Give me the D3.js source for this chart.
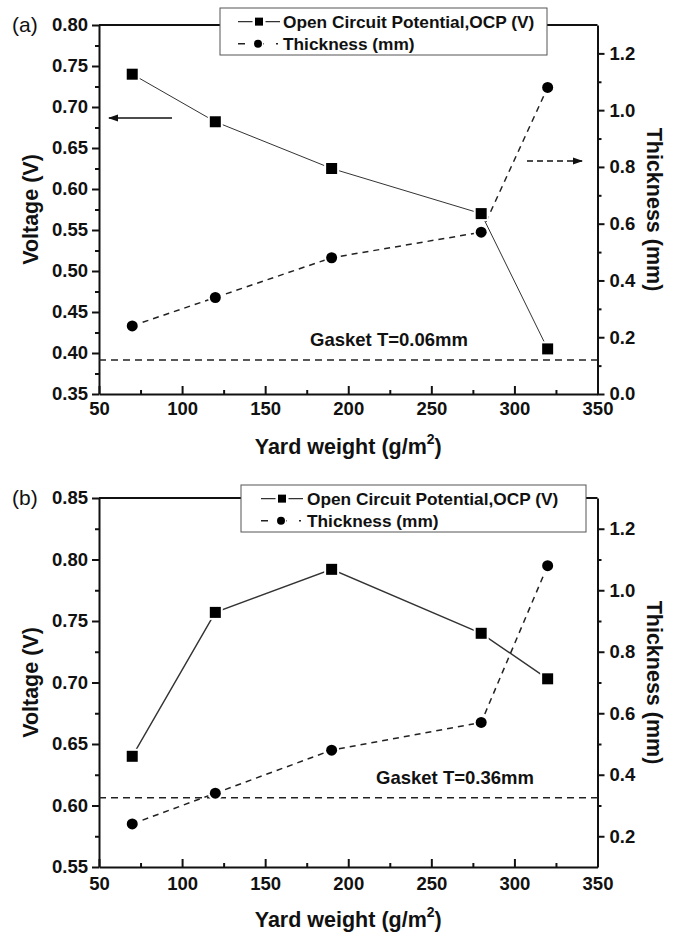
<!DOCTYPE html>
<html>
<head>
<meta charset="utf-8">
<script src="https://cdn.jsdelivr.net/npm/d3@7"></script>
<style>
  body { margin: 0; background: #fff; }
  svg text { font-family: "Liberation Sans", Arial, sans-serif; fill: #111; }
</style>
</head>
<body>
<div id="chart"></div>
<script>
const width = 676;
const height = 934;

// values
const yardWeight = [70, 120, 190, 280, 320];
const ocpA = [0.740, 0.682, 0.625, 0.570, 0.405];
const thickA = [0.24, 0.34, 0.48, 0.57, 1.08];
const ocpB = [0.640, 0.757, 0.792, 0.740, 0.703];
const thickB = [0.24, 0.34, 0.48, 0.57, 1.08];

const xTicks = [50, 100, 150, 200, 250, 300, 350];
const voltTicksA = [0.35, 0.40, 0.45, 0.50, 0.55, 0.60, 0.65, 0.70, 0.75, 0.80];
const voltTicksB = [0.55, 0.60, 0.65, 0.70, 0.75, 0.80, 0.85];
const thickTicksA = [0.0, 0.2, 0.4, 0.6, 0.8, 1.0, 1.2];
const thickTicksB = [0.2, 0.4, 0.6, 0.8, 1.0, 1.2];

const legendLabels = ["Open Circuit Potential,OCP (V)", "Thickness (mm)"];

const svg = d3.select("#chart")
    .append("svg")
    .attr("width", width)
    .attr("height", height);

const x = d3.scaleLinear().domain([50, 350]).range([99, 597.5]);

function minorTicks(ticks) {
    let out = [];
    for (let i = 0; i < ticks.length - 1; i++) out.push((ticks[i] + ticks[i + 1]) / 2);
    return out;
}

function drawPanel(p) {
    const g = svg.append("g");
    const top = p.top, bottom = p.bottom;
    const yL = d3.scaleLinear().domain(p.voltDomain).range([bottom, top]);
    const yR = d3.scaleLinear().domain(p.thickDomain).range([bottom, top]);

    // frame top line
    g.append("line")
        .attr("x1", x.range()[0]).attr("x2", x.range()[1])
        .attr("y1", top).attr("y2", top)
        .attr("stroke", "#111").attr("stroke-width", 2);

    // minor ticks
    const xMinor = g.append("g").attr("transform", `translate(0,${bottom})`)
        .call(d3.axisBottom(x).tickValues(minorTicks(xTicks)).tickSize(-4).tickFormat(""));
    const lMinor = g.append("g").attr("transform", `translate(${x.range()[0]},0)`)
        .call(d3.axisLeft(yL).tickValues(minorTicks(p.voltTicks)).tickSize(4).tickFormat(""));
    const rMinor = g.append("g").attr("transform", `translate(${x.range()[1]},0)`)
        .call(d3.axisRight(yR).tickValues(minorTicks(p.thickTicks)).tickSize(4).tickFormat(""));

    // major axes
    const xAxis = g.append("g").attr("transform", `translate(0,${bottom})`)
        .call(d3.axisBottom(x).tickValues(xTicks).tickSize(-8).tickSizeOuter(0).tickPadding(p.xPad));
    const lAxis = g.append("g").attr("transform", `translate(${x.range()[0]},0)`)
        .call(d3.axisLeft(yL).tickValues(p.voltTicks).tickSize(7).tickSizeOuter(0).tickPadding(4).tickFormat(d3.format(".2f")));
    const rAxis = g.append("g").attr("transform", `translate(${x.range()[1]},0)`)
        .call(d3.axisRight(yR).tickValues(p.thickTicks).tickSize(7).tickSizeOuter(0).tickPadding(5).tickFormat(d3.format(".1f")));

    [xMinor, lMinor, rMinor, xAxis, lAxis, rAxis].forEach(a => {
        a.select(".domain").attr("stroke", "#111").attr("stroke-width", 2);
        a.selectAll(".tick line").attr("stroke", "#111").attr("stroke-width", 2);
        a.selectAll(".tick text")
            .attr("font-size", 18.5).attr("font-weight", "bold")
            .style("font-family", "'Liberation Sans', Arial, sans-serif").attr("fill", "#111");
    });
    [xMinor, lMinor, rMinor].forEach(a => a.select(".domain").remove());

    // gasket reference line
    g.append("line")
        .attr("x1", x.range()[0]).attr("x2", x.range()[1])
        .attr("y1", yR(p.gasket)).attr("y2", yR(p.gasket))
        .attr("stroke", "#222").attr("stroke-width", 1.6)
        .attr("stroke-dasharray", "7,5");
    g.append("text")
        .attr("x", p.gasketX).attr("y", yR(p.gasket) - 14)
        .attr("text-anchor", "middle")
        .attr("font-size", 18.5).attr("font-weight", "bold")
        .text(p.gasketLabel);

    const ocpPts = yardWeight.map((w, i) => [x(w), yL(p.ocp[i])]);
    const thPts = yardWeight.map((w, i) => [x(w), yR(p.thick[i])]);

    g.append("path")
        .attr("d", d3.line()(ocpPts))
        .attr("fill", "none").attr("stroke", "#333").attr("stroke-width", p.ocpWidth);
    g.append("path")
        .attr("d", d3.line()(thPts))
        .attr("fill", "none").attr("stroke", "#222").attr("stroke-width", 1.5)
        .attr("stroke-dasharray", "6,5");

    // markers with a small white halo (gap in the line)
    g.selectAll(".sq").data(ocpPts).join("rect")
        .attr("class", "sq")
        .attr("x", d => d[0] - 5.5).attr("y", d => d[1] - 5.5)
        .attr("width", 11).attr("height", 11)
        .attr("fill", "#000").attr("stroke", "#fff").attr("stroke-width", 4)
        .attr("paint-order", "stroke");
    g.selectAll(".ci").data(thPts).join("circle")
        .attr("class", "ci")
        .attr("cx", d => d[0]).attr("cy", d => d[1]).attr("r", 5.5)
        .attr("fill", "#000").attr("stroke", "#fff").attr("stroke-width", 4)
        .attr("paint-order", "stroke");

    // axis titles
    const mid = (top + bottom) / 2;
    g.append("text")
        .attr("transform", `translate(31,${mid}) rotate(-90)`)
        .attr("text-anchor", "middle").attr("dominant-baseline", "central")
        .attr("font-size", 21.5).attr("font-weight", "bold")
        .text("Voltage (V)");
    g.append("text")
        .attr("transform", `translate(654,${mid}) rotate(90)`)
        .attr("text-anchor", "middle").attr("dominant-baseline", "central")
        .attr("font-size", 21.5).attr("font-weight", "bold")
        .text("Thickness (mm)");
    const xt = g.append("text")
        .attr("x", (x.range()[0] + x.range()[1]) / 2).attr("y", bottom + 60)
        .attr("text-anchor", "middle")
        .attr("font-size", 21.5).attr("font-weight", "bold");
    xt.append("tspan").text("Yard weight (g/m");
    xt.append("tspan").attr("font-size", 14).attr("dy", -10).text("2");
    xt.append("tspan").attr("dy", 10).text(")");

    // panel letter
    g.append("text")
        .attr("x", 12).attr("y", top + 7)
        .attr("font-size", 21)
        .text(p.letter);

    // legend
    const L = p.legend;
    const lg = g.append("g");
    lg.append("rect")
        .attr("x", L.x).attr("y", L.y).attr("width", L.w).attr("height", L.h)
        .attr("fill", "#fff").attr("stroke", "#555").attr("stroke-width", 1);
    const r1 = L.y + L.h * 0.29, r2 = L.y + L.h * 0.76;
    lg.append("line").attr("x1", L.sx).attr("x2", L.sx + 42).attr("y1", r1).attr("y2", r1)
        .attr("stroke", "#333").attr("stroke-width", 1.2);
    lg.append("rect").attr("x", L.sx + 21 - 4).attr("y", r1 - 4).attr("width", 8).attr("height", 8)
        .attr("fill", "#000").attr("stroke", "#fff").attr("stroke-width", 5).attr("paint-order", "stroke");
    lg.append("line").attr("x1", L.sx).attr("x2", L.sx + 40).attr("y1", r2).attr("y2", r2)
        .attr("stroke", "#222").attr("stroke-width", 1.5).attr("stroke-dasharray", "7,12");
    lg.append("circle").attr("cx", L.sx + 20).attr("cy", r2).attr("r", 4)
        .attr("fill", "#000").attr("stroke", "#fff").attr("stroke-width", 3).attr("paint-order", "stroke");
    lg.selectAll("text").data(legendLabels).join("text")
        .attr("x", L.tx).attr("y", (d, i) => (i === 0 ? r1 : r2) + 6)
        .attr("font-size", 17.3).attr("font-weight", "bold")
        .text(d => d);
}

// panel (a)
drawPanel({
    letter: "(a)", top: 25, bottom: 394,
    voltDomain: [0.35, 0.80], thickDomain: [0, 1.3],
    voltTicks: voltTicksA, thickTicks: thickTicksA,
    ocp: ocpA, thick: thickA, ocpWidth: 1,
    gasket: 0.12, gasketLabel: "Gasket T=0.06mm", gasketX: 389,
    xPad: 8,
    legend: {x: 220, y: 8, w: 327, h: 47, sx: 238, tx: 283}
});

// arrows in panel (a)
svg.append("defs").append("marker")
    .attr("id", "head").attr("viewBox", "0 0 10 10")
    .attr("refX", 9).attr("refY", 5)
    .attr("markerWidth", 10).attr("markerHeight", 10)
    .attr("markerUnits", "userSpaceOnUse")
    .attr("orient", "auto")
    .append("path").attr("d", "M0,1.5 L10,5 L0,8.5 Z").attr("fill", "#111");
svg.append("line")
    .attr("x1", 172).attr("x2", 109).attr("y1", 118).attr("y2", 118)
    .attr("stroke", "#111").attr("stroke-width", 1.5)
    .attr("marker-end", "url(#head)");
svg.append("line")
    .attr("x1", 527).attr("x2", 582).attr("y1", 161).attr("y2", 161)
    .attr("stroke", "#111").attr("stroke-width", 1.5)
    .attr("stroke-dasharray", "6,4")
    .attr("marker-end", "url(#head)");

// panel (b)
drawPanel({
    letter: "(b)", top: 498, bottom: 867,
    voltDomain: [0.55, 0.85], thickDomain: [0.1, 1.3],
    voltTicks: voltTicksB, thickTicks: thickTicksB,
    ocp: ocpB, thick: thickB, ocpWidth: 1.4,
    gasket: 0.325, gasketLabel: "Gasket T=0.36mm", gasketX: 455,
    xPad: 10,
    legend: {x: 241, y: 485, w: 345, h: 47, sx: 261, tx: 307}
});
</script>
</body>
</html>
